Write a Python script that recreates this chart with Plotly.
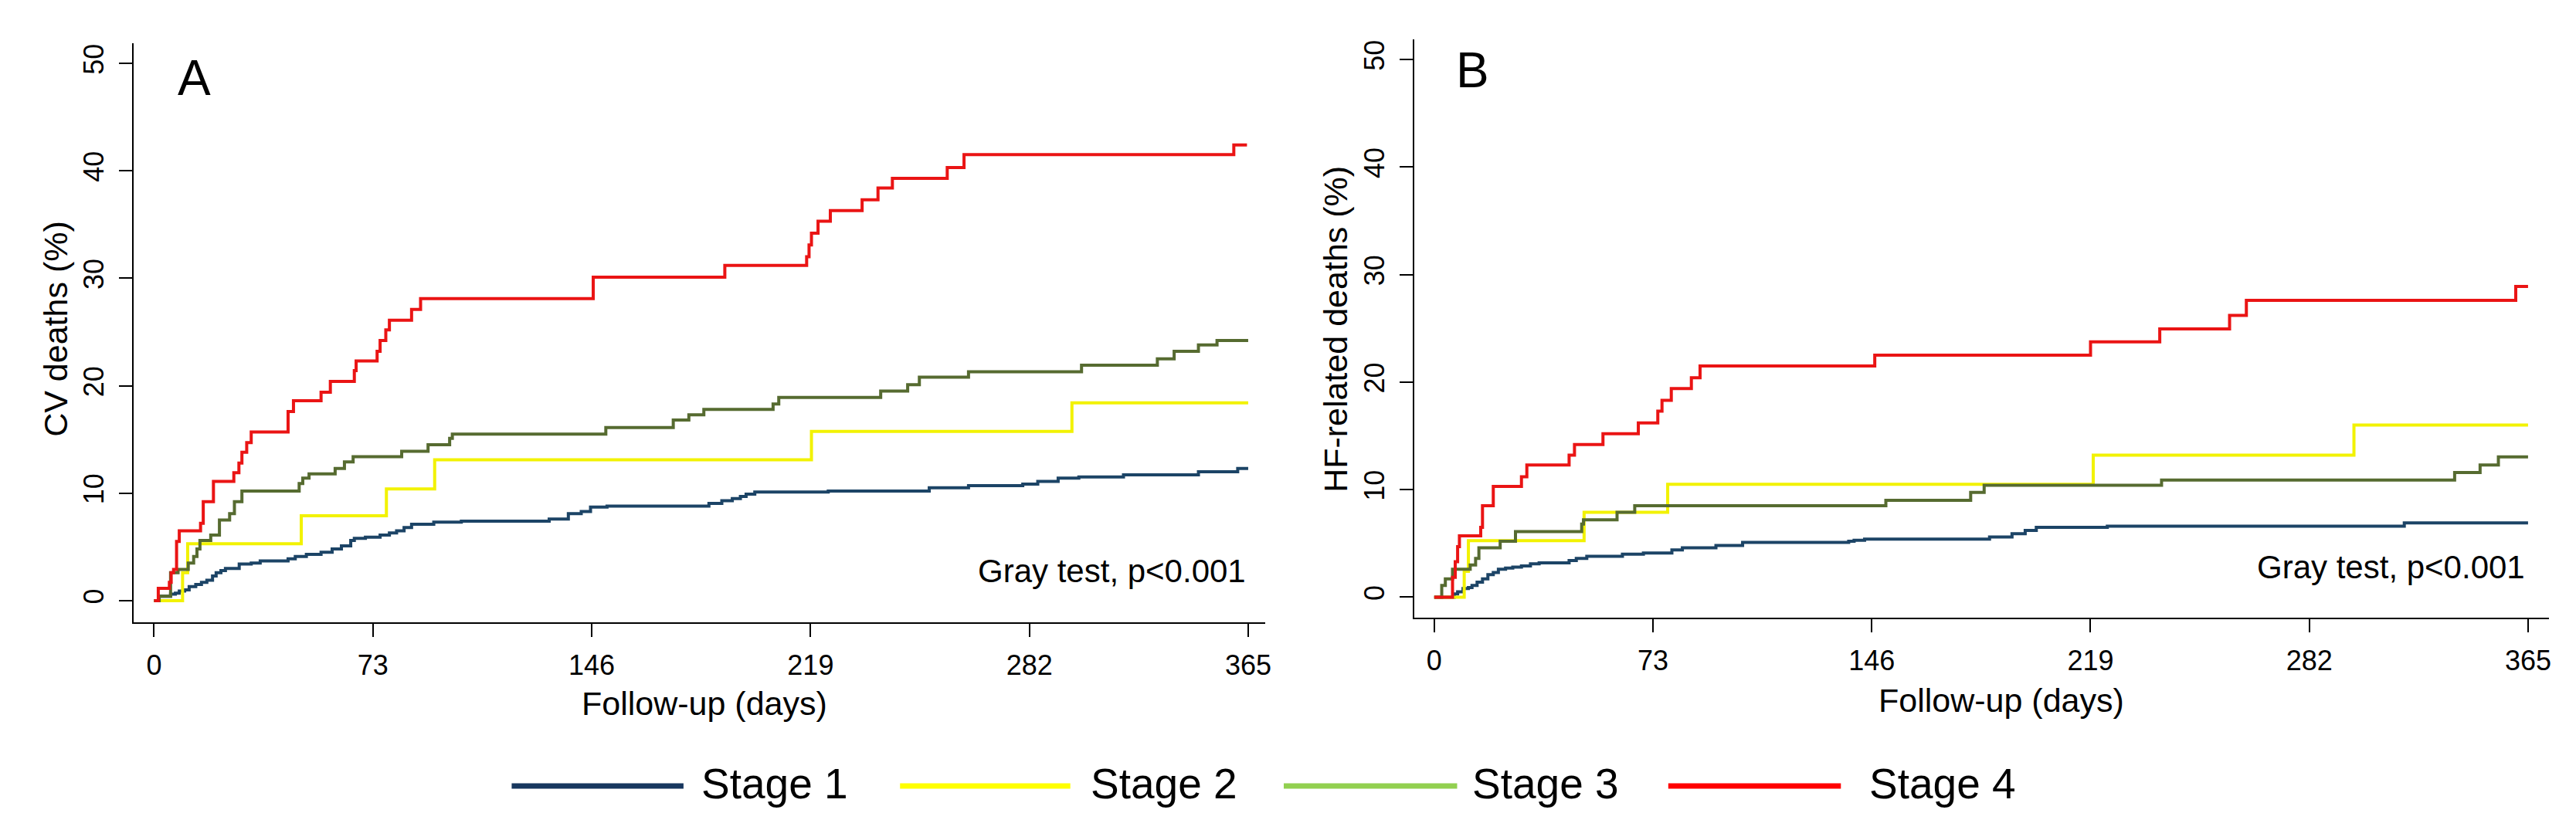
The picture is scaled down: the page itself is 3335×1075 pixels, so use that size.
import plotly.graph_objects as go

# ---------------- data ----------------
stages = ["Stage 1", "Stage 2", "Stage 3", "Stage 4"]

# Panel A: CV deaths (%)
a_s1_t = [0, 1.6, 5.5, 7.1, 8.4, 10.2, 11.7, 13.9, 15.8, 17.6, 19.5, 20.7, 22.3, 23.8, 28.4, 32.4, 35.4,
          44.7, 47.1, 50.8, 55.7, 59.4, 62.5, 65.6, 66.8, 70.5, 75.4, 78.5, 80.9, 83.4, 85.9, 93.3, 102.5,
          131.8, 138.2, 142.5, 145.6, 151.1, 185.1, 189.4, 192.9, 195.6, 197.5, 200.4, 224.9, 258.6, 271.7,
          289.8, 294.8, 301.6, 308.5, 323.4, 348.4, 361.5, 365]
a_s1_v = [0, 0.4, 0.6, 0.7, 0.9, 1.0, 1.3, 1.5, 1.7, 1.9, 2.3, 2.6, 2.8, 3.0, 3.4, 3.5, 3.7,
          3.9, 4.1, 4.3, 4.5, 4.8, 5.1, 5.6, 5.8, 5.9, 6.1, 6.3, 6.5, 6.8, 7.1, 7.3, 7.4,
          7.6, 8.1, 8.3, 8.7, 8.8, 9.05, 9.3, 9.5, 9.7, 9.9, 10.1, 10.2, 10.5, 10.7,
          10.85, 11.1, 11.4, 11.5, 11.7, 12.0, 12.3, 12.3]

a_s2_t = [0, 9.5, 11.2, 49.1, 77.5, 93.6, 219.3, 306.2, 365]
a_s2_v = [0, 2.6, 5.3, 7.9, 10.4, 13.1, 15.75, 18.4, 18.4]

a_s3_t = [0, 1.7, 5.5, 8.0, 11.4, 13.2, 14.3, 15.3, 18.9, 21.8, 25.2, 26.8, 29.3, 48.4, 49.6, 51.7, 60.4,
          63.5, 66.4, 82.6, 91.4, 98.6, 99.5, 150.7, 173.2, 178.4, 183.4, 206.5, 208.4, 242.4, 251.4,
          255.3, 271.7, 309.4, 334.7, 340.3, 348.4, 354.6, 365]
a_s3_v = [0, 0.4, 2.6, 2.9, 3.5, 4.1, 4.8, 5.6, 6.1, 7.5, 8.1, 9.2, 10.2, 10.9, 11.4, 11.8, 12.3,
          12.9, 13.4, 13.9, 14.5, 15.1, 15.5, 16.1, 16.8, 17.3, 17.8, 18.3, 18.9, 19.5, 20.1,
          20.8, 21.3, 21.9, 22.5, 23.2, 23.8, 24.2, 24.2]

a_s4_t = [0, 1.4, 5.1, 5.7, 6.5, 7.5, 8.4, 15.5, 16.4, 19.8, 26.6, 28.3, 29.3, 30.9, 32.4, 44.7, 46.5,
          55.7, 58.8, 66.8, 67.4, 74.4, 75.4, 77.3, 78.5, 85.9, 88.9, 146.5, 190.4, 217.7, 218.5, 219.3,
          221.5, 225.6, 236.2, 241.5, 246.3, 264.6, 270.2, 360.2, 364.6]
a_s4_v = [0, 1.15, 1.7, 2.6, 2.9, 5.5, 6.5, 7.2, 9.2, 11.1, 11.9, 12.8, 13.8, 14.7, 15.7, 17.6, 18.6,
          19.4, 20.4, 21.4, 22.3, 23.2, 24.2, 25.2, 26.1, 27.1, 28.1, 30.1, 31.2, 32.0, 33.1, 34.2,
          35.3, 36.3, 37.3, 38.4, 39.3, 40.3, 41.5, 42.4, 42.4]

# Panel B: HF-related deaths (%)
b_s1_t = [0, 6.7, 7.8, 9.6, 11.4, 12.6, 14.3, 16.1, 17.9, 19.7, 21.4, 23.8, 26.2, 29.1, 32.1, 35.0, 45.0,
          47.4, 50.9, 62.8, 69.8, 79.3, 82.8, 94.0, 102.9, 138.3, 140.1, 143.6, 185.3, 192.8, 197.2,
          200.9, 224.6, 323.7, 365]
b_s1_v = [0, 0.3, 0.5, 0.8, 0.9, 1.1, 1.4, 1.7, 2.1, 2.3, 2.6, 2.7, 2.8, 2.9, 3.1, 3.2, 3.4,
          3.6, 3.8, 4.0, 4.1, 4.4, 4.6, 4.8, 5.1, 5.2, 5.3, 5.4, 5.6, 5.9, 6.2,
          6.5, 6.6, 6.9, 6.9]

b_s2_t = [0, 10.0, 11.4, 50.0, 77.9, 219.9, 306.9, 365]
b_s2_v = [0, 2.4, 5.25, 7.9, 10.5, 13.2, 16.0, 16.0]

b_s3_t = [0, 2.5, 3.7, 6.1, 12.0, 13.8, 14.9, 22.0, 27.1, 49.2, 49.8, 61.0, 66.9, 150.7, 179.0, 183.5,
          242.7, 340.5, 349.0, 355.1, 365]
b_s3_v = [0, 1.1, 1.7, 2.6, 3.0, 3.6, 4.6, 5.2, 6.1, 6.8, 7.2, 7.9, 8.5, 9.0, 9.75, 10.4,
          10.9, 11.6, 12.3, 13.05, 13.05]

b_s4_t = [0, 6.1, 7.0, 7.8, 8.4, 15.5, 16.1, 19.7, 29.1, 30.9, 45.0, 46.8, 56.3, 68.1, 74.6, 76.0, 79.1,
          85.8, 88.7, 147.0, 219.0, 242.1, 265.4, 271.0, 360.9, 365]
b_s4_v = [0, 1.85, 3.3, 4.7, 5.7, 6.5, 8.5, 10.3, 11.2, 12.3, 13.2, 14.2, 15.2, 16.2, 17.3, 18.3, 19.4,
          20.4, 21.5, 22.5, 23.75, 24.95, 26.2, 27.6, 28.9, 28.9]

x_tickvals = [0, 73, 146, 219, 292, 365]
x_ticktext = ["0", "73", "146", "219", "282", "365"]
y_tickvals = [0, 10, 20, 30, 40, 50]

panel_labels = ["A", "B"]
y_titles = ["CV deaths (%)", "HF-related deaths (%)"]
x_title = "Follow-up (days)"
test_text = "Gray test, p<0.001"

# ---------------- styling ----------------
W, H = 3335, 1075
FONT = "Liberation Sans, Arial, sans-serif"
line_colors = ["#1c4466", "#f2f200", "#566b30", "#ea1414"]
legend_colors = ["#17375e", "#ffff00", "#92d050", "#ff0000"]


def px(x):
    return x / W


def py(y):
    return 1 - y / H


fig = go.Figure()

panels = [
    [(a_s1_t, a_s1_v), (a_s2_t, a_s2_v), (a_s3_t, a_s3_v), (a_s4_t, a_s4_v)],
    [(b_s1_t, b_s1_v), (b_s2_t, b_s2_v), (b_s3_t, b_s3_v), (b_s4_t, b_s4_v)],
]
for p, series in enumerate(panels):
    xa = "x" if p == 0 else "x2"
    ya = "y" if p == 0 else "y2"
    for i, (t, v) in enumerate(series):
        fig.add_trace(go.Scatter(
            x=t, y=v, mode="lines", name=stages[i], line=dict(color=line_colors[i], width=4, shape="hv"),
            xaxis=xa, yaxis=ya, showlegend=False, hoverinfo="x+y+name"))

axis_common = dict(showline=True, linecolor="black", linewidth=2, ticks="outside", ticklen=17,
                   tickwidth=2, tickcolor="black", showgrid=False, zeroline=False,
                   tickfont=dict(family=FONT, size=36, color="black"))

fig.update_layout(
    width=W, height=H, margin=dict(l=0, r=0, t=0, b=0),
    paper_bgcolor="white", plot_bgcolor="white", showlegend=False,
    xaxis=dict(domain=[px(165.5), px(1634)], range=[-6.8, 370.7], tickvals=x_tickvals,
               ticktext=x_ticktext, anchor="y", ticklabelstandoff=6, **axis_common),
    yaxis=dict(domain=[py(797.6), py(48)], range=[-1.99, 51.87], tickvals=y_tickvals,
               tickangle=-90, anchor="x", ticklabelstandoff=6, **axis_common),
    xaxis2=dict(domain=[px(1827.5), px(3300)], range=[-6.63, 372.0], tickvals=x_tickvals,
                ticktext=x_ticktext, anchor="y2", ticklabelstandoff=6, **axis_common),
    yaxis2=dict(domain=[py(791.5), py(43)], range=[-1.87, 51.87], tickvals=y_tickvals,
                tickangle=-90, anchor="x2", ticklabelstandoff=6, **axis_common),
)

ann = []
# panel letters
ann.append(dict(text=panel_labels[0], x=px(221), y=py(55), xanchor="left", yanchor="top"))
ann.append(dict(text=panel_labels[1], x=px(1880), y=py(45), xanchor="left", yanchor="top"))
for a in ann:
    a.update(xref="paper", yref="paper", showarrow=False, font=dict(family=FONT, size=64, color="black"))

more = [
    # y titles
    dict(text=y_titles[0], x=px(64), y=py(418), textangle=-90, font=dict(family=FONT, size=43, color="black")),
    dict(text=y_titles[1], x=px(1725), y=py(418), textangle=-90, font=dict(family=FONT, size=43, color="black")),
    # x titles
    dict(text=x_title, x=px(906), y=py(903), font=dict(family=FONT, size=43, color="black")),
    dict(text=x_title, x=px(2589), y=py(899), font=dict(family=FONT, size=43, color="black")),
    # test annotations
    dict(text=test_text, x=px(1611), y=py(757), xanchor="right", yanchor="bottom",
         font=dict(family=FONT, size=42, color="black")),
    dict(text=test_text, x=px(3271), y=py(752), xanchor="right", yanchor="bottom",
         font=dict(family=FONT, size=42, color="black")),
]
for a in more:
    a.setdefault("xanchor", "center")
    a.setdefault("yanchor", "middle")
    a.update(xref="paper", yref="paper", showarrow=False)
    ann.append(a)

# custom legend (long line samples as in the original)
leg_line_x = [(656, 879), (1160, 1381), (1658, 1883), (2157, 2381)]
leg_text_x = [900, 1405, 1901, 2416]
shapes = []
for i in range(4):
    x0, x1 = leg_line_x[i]
    shapes.append(dict(type="line", xref="paper", yref="paper", x0=px(x0), x1=px(x1), y0=py(1010), y1=py(1010),
                       line=dict(color=legend_colors[i], width=7)))
    ann.append(dict(text=stages[i], x=px(leg_text_x[i]), y=py(1007), xanchor="left", yanchor="middle",
                    xref="paper", yref="paper", showarrow=False, font=dict(family=FONT, size=55, color="black")))

fig.update_layout(annotations=ann, shapes=shapes)
fig.write_html("out.html")
